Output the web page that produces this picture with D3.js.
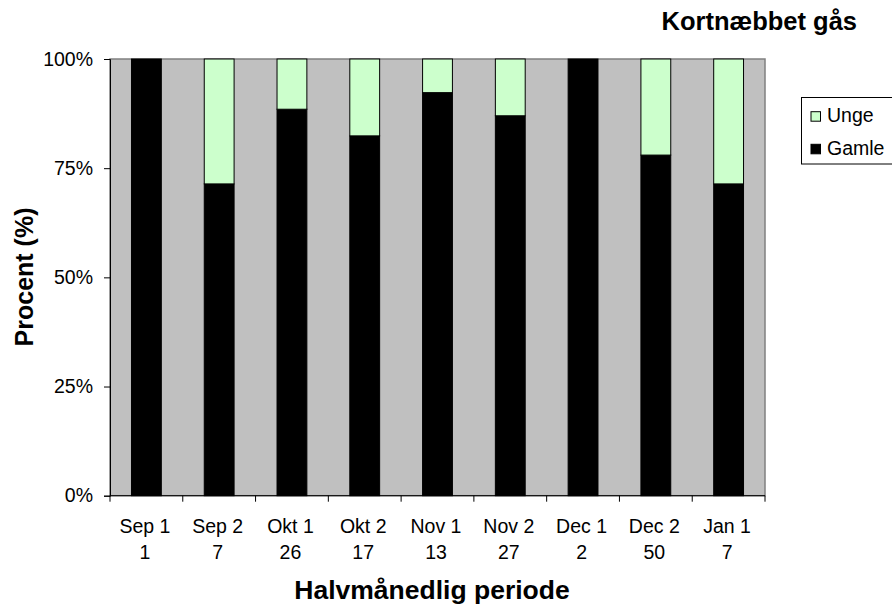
<!DOCTYPE html>
<html><head><meta charset="utf-8">
<script src="https://cdn.jsdelivr.net/npm/d3@7"></script>
<style>body{margin:0;background:#fff;} text{font-family:"Liberation Sans",Arial,sans-serif;}</style>
</head><body>
<svg id="c" width="892" height="606"></svg>
<script>
const categories = ["Sep 1","Sep 2","Okt 1","Okt 2","Nov 1","Nov 2","Dec 1","Dec 2","Jan 1"];
const counts = ["1","7","26","17","13","27","2","50","7"];
const gamle = [100, 71.4, 88.5, 82.4, 92.3, 87.0, 100, 78.0, 71.4];
const unge = [0, 28.6, 11.5, 17.6, 7.7, 13.0, 0, 22.0, 28.6];
const yTicks = [0, 25, 50, 75, 100];
const seriesNames = ["Unge","Gamle"];
const seriesColors = {"Gamle":"#000000","Unge":"#CCFFCC"};

const svg = d3.select("#c");
const L=110, R=765, T=59, B=495.7;
const x = d3.scaleBand().domain(categories).range([L,R]).paddingInner(0.59).paddingOuter(0.295);
const y = d3.scaleLinear().domain([0,100]).range([B,T]);

svg.append("rect").attr("x",L).attr("y",T).attr("width",R-L).attr("height",B-T)
  .attr("fill","#C0C0C0").attr("stroke","#808080").attr("stroke-width",1.5);

const data = categories.map((c,i)=>({cat:c, Gamle:gamle[i], Unge:unge[i]}));
const stack = d3.stack().keys(["Gamle","Unge"])(data);
stack.forEach(s=>{
  svg.append("g").selectAll("rect").data(s.filter(d=>d[1]-d[0]>0)).join("rect")
    .attr("x",d=>x(d.data.cat)).attr("width",x.bandwidth())
    .attr("y",d=>y(d[1])).attr("height",d=>y(d[0])-y(d[1]))
    .attr("fill",seriesColors[s.key]).attr("stroke","#000").attr("stroke-width",1);
});

// y axis
const ya = svg.append("g").attr("transform",`translate(${L},0)`)
  .call(d3.axisLeft(y).tickValues(yTicks).tickFormat(d=>d+"%").tickSize(6).tickPadding(11));
ya.select(".domain").attr("stroke","#000");
ya.selectAll("text").attr("font-size",19.5).attr("fill","#000").attr("font-family","Liberation Sans, Arial");

// x axis line and boundary ticks
svg.append("line").attr("x1",L).attr("x2",R).attr("y1",B).attr("y2",B).attr("stroke","#000");
d3.range(categories.length+1).forEach(i=>{
  const xx = L + i*(R-L)/categories.length;
  svg.append("line").attr("x1",xx).attr("x2",xx).attr("y1",B).attr("y2",B+6).attr("stroke","#000");
});
svg.append("g").selectAll("text").data(categories).join("text")
  .attr("x",d=>x(d)+x.bandwidth()/2-1.5).attr("y",532.5).attr("text-anchor","middle")
  .attr("font-size",19.5).text(d=>d);
svg.append("g").selectAll("text").data(counts).join("text")
  .attr("x",(d,i)=>x(categories[i])+x.bandwidth()/2-1.5).attr("y",559).attr("text-anchor","middle")
  .attr("font-size",19.5).text(d=>d);

// titles
svg.append("text").attr("x",857).attr("y",30).attr("text-anchor","end")
  .attr("font-size",25.5).attr("font-weight","bold").text("Kortnæbbet gås");
svg.append("text").attr("x",432).attr("y",599).attr("text-anchor","middle")
  .attr("font-size",26.5).attr("font-weight","bold").text("Halvmånedlig periode");
svg.append("text").attr("transform","translate(33,277) rotate(-90)").attr("text-anchor","middle")
  .attr("font-size",25).attr("font-weight","bold").text("Procent (%)");

// legend
svg.append("rect").attr("x",801.5).attr("y",97.5).attr("width",100).attr("height",66.5)
  .attr("fill","#fff").attr("stroke","#000").attr("stroke-width",1);
seriesNames.forEach((n,i)=>{
  const yy = 116.7 + i*32.6;
  svg.append("rect").attr("x",811).attr("y",yy-5).attr("width",9.5).attr("height",9.5)
    .attr("fill",seriesColors[n]).attr("stroke","#000");
  svg.append("text").attr("x",827).attr("y",yy+5.5).attr("font-size",19.5).text(n);
});
</script>
</body></html>
